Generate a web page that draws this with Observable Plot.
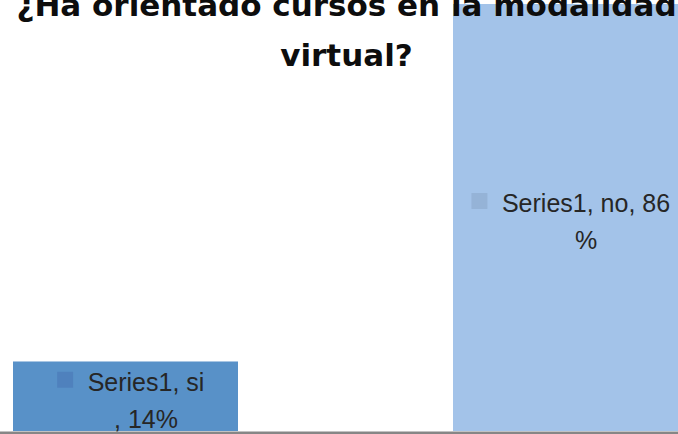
<!DOCTYPE html>
<html>
<head>
<meta charset="utf-8">
<script src="https://cdn.jsdelivr.net/npm/d3@7"></script>
<script src="https://cdn.jsdelivr.net/npm/@observablehq/plot@0.6"></script>
<style>
  html, body { margin: 0; padding: 0; background: #ffffff; overflow: hidden; }
</style>
</head>
<body>
<div id="chart"></div>
<script>
// ---- data ----
const seriesName = "Series1";
const categories = ["si", "no"];
const values = [14, 86];
const labelBreaks = [11, 15]; // where Excel wrapped each data label
const titleLines = ["¿Ha orientado cursos en la modalidad", "virtual?"];
const barColors = ["#5891C8", "#A3C3E9"];
const keyColors = ["#4F81BD", "#95B3D7"];

// ---- build ----
const labelFont = "'Liberation Sans', Arial, sans-serif";
const labelSize = 25;
const titleSize = 31;
const ctx = document.createElement("canvas").getContext("2d");
ctx.font = `${labelSize}px ${labelFont}`;

const data = categories.map((c, i) => {
  const full = `${seriesName}, ${c}, ${values[i]}%`;
  const line1 = full.slice(0, labelBreaks[i]);
  const line2 = full.slice(labelBreaks[i]);
  return {cat: c, value: values[i], fill: barColors[i], key: keyColors[i],
          line1, line2, w: ctx.measureText(line1).width};
});

const textShift = 20;

const chart = Plot.plot({
  width: 678,
  height: 434,
  marginTop: 0, marginRight: 0, marginLeft: 0, marginBottom: 3,
  style: {background: "#ffffff"},
  x: {domain: categories, range: [12, 679], paddingInner: 0.4875, paddingOuter: 0, axis: null},
  y: {domain: [0, 86], range: [431, 4], axis: null},
  color: {type: "identity"},
  marks: [
    Plot.barY(data, {x: "cat", y: "value", fill: "fill"}),
    Plot.ruleY([0], {stroke: "#868686", strokeWidth: 3, dy: 1.5}),
    ...data.map(d => Plot.dot([d], {
      x: "cat", y: r => r.value / 2, symbol: "square", r: 9, fill: "key", stroke: null,
      dx: textShift - d.w / 2 - 14.5 - 8, dy: -17
    })),
    Plot.text(data, {x: "cat", y: d => d.value / 2, text: "line1", dx: textShift, dy: -14,
      fontSize: labelSize, fontFamily: labelFont, fill: "#262626"}),
    Plot.text(data, {x: "cat", y: d => d.value / 2, text: "line2", dx: textShift, dy: 23,
      fontSize: labelSize, fontFamily: labelFont, fill: "#262626"}),
    Plot.text([titleLines.join("\n")], {frameAnchor: "top", lineAnchor: "top", dx: 7, dy: -20,
      lineHeight: 1.62, fontSize: titleSize, fontWeight: "bold",
      fontFamily: "'DejaVu Sans', sans-serif", fill: "#0d0d0d"})
  ]
});
document.getElementById("chart").appendChild(chart);
</script>
</body>
</html>
